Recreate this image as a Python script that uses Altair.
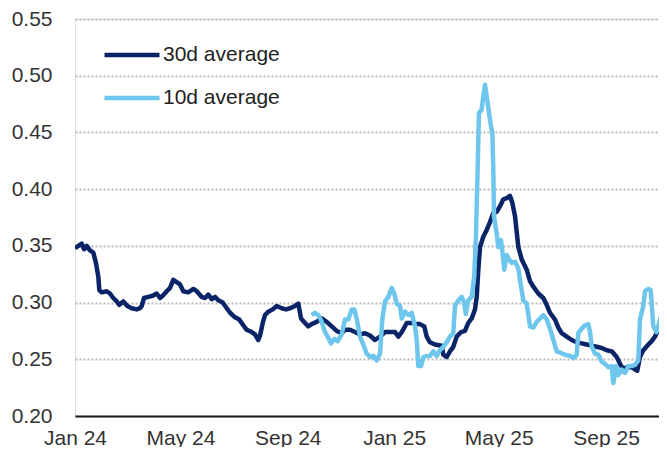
import altair as alt
import pandas as pd

FONT = "Liberation Sans"

start_date = "2024-01-01"
end_date = "2025-10-31T17:00:00"

series_names = ["30d average", "10d average"]
series_colors = ["#0a2467", "#6ec6ec"]

y_ticks = [0.20, 0.25, 0.30, 0.35, 0.40, 0.45, 0.50, 0.55]
x_tick_dates = ["2024-01-01", "2024-05-01", "2024-09-01",
                "2025-01-01", "2025-05-01", "2025-09-01"]

# day offsets from 2024-01-01 and values
days_30d = [0, 3.8, 7.7, 10.3, 13.4, 17.2, 21.0, 24.0, 26.7, 27.9,
            30.6, 36.4, 40.1, 43.9, 47.8, 50.8, 55.4, 60.0, 65.0, 70.8,
            74.5, 76.5, 79.1, 84.0, 89.1, 93.7, 97.5, 100.6, 105.2, 109.0,
            112.7, 116.6, 120.4, 124.2, 129.9, 135.7, 139.6, 145.3, 149.1, 152.9,
            156.8, 160.6, 164.3, 169.4, 174.0, 177.8, 183.5, 188.4, 193.0, 196.9,
            202.6, 206.4, 210.2, 212.2, 215.3, 217.9, 221.7, 226.7, 231.3, 237.0,
            242.0, 246.6, 252.3, 256.1, 259.2, 263.8, 267.5, 271.4, 277.2, 282.9,
            288.6, 294.4, 300.1, 305.9, 309.6, 315.4, 321.1, 326.8, 332.6, 338.3,
            344.0, 349.8, 355.5, 361.2, 367.0, 370.8, 374.7, 380.4, 386.1, 391.9,
            395.6, 400.6, 403.3, 407.1, 412.8, 420.5, 422.4, 426.2, 430.0, 433.8,
            437.7, 442.7, 447.2, 451.0, 454.9, 458.7, 460.7, 462.5, 464.5, 468.2,
            472.1, 475.9, 479.7, 483.6, 487.4, 491.2, 495.1, 498.9, 501.5, 504.6,
            508.4, 512.3, 518.0, 521.8, 525.6, 531.3, 537.0, 540.9, 544.7, 550.5,
            554.3, 558.1, 563.9, 569.6, 575.3, 581.1, 586.8, 592.6, 598.3, 604.0,
            609.8, 615.5, 621.2, 625.0, 628.8, 632.7, 638.4, 642.2, 644.8, 647.9,
            651.7, 657.5, 661.3, 665.1, 668.9, 672.8, 676.5, 678.5]
vals_30d = [0.348, 0.350, 0.352, 0.347, 0.350, 0.346, 0.344, 0.335, 0.323, 0.311,
            0.309, 0.310, 0.308, 0.304, 0.301, 0.298, 0.301, 0.297, 0.295, 0.294,
            0.295, 0.297, 0.304, 0.305, 0.306, 0.308, 0.304, 0.306, 0.310, 0.313,
            0.320, 0.318, 0.316, 0.310, 0.309, 0.312, 0.310, 0.305, 0.304, 0.307,
            0.303, 0.305, 0.302, 0.300, 0.295, 0.291, 0.287, 0.285, 0.280, 0.276,
            0.274, 0.272, 0.267, 0.271, 0.282, 0.289, 0.292, 0.294, 0.297, 0.295,
            0.294, 0.295, 0.297, 0.299, 0.286, 0.282, 0.279, 0.281, 0.283, 0.286,
            0.283, 0.279, 0.275, 0.273, 0.276, 0.276, 0.274, 0.272, 0.273, 0.271,
            0.267, 0.270, 0.274, 0.274, 0.274, 0.270, 0.274, 0.282, 0.282, 0.281,
            0.281, 0.279, 0.270, 0.265, 0.263, 0.262, 0.254, 0.252, 0.257, 0.261,
            0.270, 0.274, 0.275, 0.282, 0.286, 0.294, 0.305, 0.329, 0.349, 0.358,
            0.364, 0.371, 0.379, 0.380, 0.385, 0.391, 0.392, 0.394, 0.388, 0.376,
            0.349, 0.338, 0.329, 0.319, 0.314, 0.308, 0.304, 0.298, 0.291, 0.285,
            0.278, 0.273, 0.270, 0.267, 0.265, 0.264, 0.263, 0.262, 0.261, 0.260,
            0.258, 0.257, 0.252, 0.246, 0.241, 0.243, 0.243, 0.241, 0.240, 0.252,
            0.258, 0.263, 0.266, 0.270, 0.276, 0.280, 0.286, 0.286]

days_10d = [271.4, 275.2, 279.0, 282.9, 286.7, 290.5, 293.6, 297.4, 301.3, 305.9,
            309.6, 313.4, 317.3, 320.3, 323.0, 326.8, 330.6, 334.5, 338.3, 342.1,
            346.0, 349.8, 352.4, 355.5, 359.3, 363.2, 366.1, 368.9, 372.7, 374.7,
            378.4, 382.2, 386.1, 389.9, 391.9, 393.7, 396.8, 399.5, 403.3, 407.1,
            410.9, 414.8, 418.6, 422.4, 426.2, 430.0, 433.8, 435.8, 439.6, 443.5,
            446.4, 448.1, 451.0, 454.9, 457.8, 459.8, 461.7, 463.2, 466.3, 468.2,
            470.2, 472.1, 474.8, 477.1, 478.6, 479.7, 480.5, 483.6, 485.4, 488.5,
            490.0, 492.3, 495.1, 497.7, 500.8, 504.6, 508.4, 510.3, 514.1, 518.0,
            521.8, 525.6, 529.5, 533.3, 537.1, 541.0, 544.7, 548.6, 552.4, 556.2,
            562.0, 567.7, 571.5, 575.3, 577.2, 581.1, 584.9, 588.7, 590.6, 592.6,
            596.4, 600.2, 604.0, 607.8, 611.7, 615.5, 617.3, 620.4, 623.0, 626.9,
            630.7, 634.5, 638.4, 642.2, 646.0, 647.9, 651.7, 653.7, 657.5, 660.2,
            663.2, 667.0, 670.8, 674.6, 678.5]
vals_10d = [0.289, 0.291, 0.289, 0.283, 0.274, 0.269, 0.264, 0.268, 0.266, 0.272,
            0.285, 0.285, 0.294, 0.294, 0.286, 0.270, 0.263, 0.255, 0.252, 0.253,
            0.249, 0.255, 0.285, 0.301, 0.305, 0.313, 0.308, 0.299, 0.297, 0.286,
            0.292, 0.289, 0.291, 0.279, 0.267, 0.244, 0.244, 0.252, 0.253, 0.253,
            0.257, 0.253, 0.258, 0.261, 0.265, 0.270, 0.273, 0.297, 0.302, 0.305,
            0.300, 0.290, 0.302, 0.305, 0.323, 0.358, 0.417, 0.467, 0.470, 0.482,
            0.492, 0.482, 0.467, 0.455, 0.450, 0.417, 0.376, 0.361, 0.349, 0.355,
            0.346, 0.329, 0.342, 0.338, 0.335, 0.336, 0.330, 0.320, 0.302, 0.299,
            0.279, 0.278, 0.283, 0.286, 0.289, 0.285, 0.277, 0.267, 0.257, 0.256,
            0.254, 0.253, 0.251, 0.254, 0.273, 0.277, 0.280, 0.281, 0.274, 0.261,
            0.255, 0.254, 0.248, 0.246, 0.243, 0.244, 0.229, 0.244, 0.236, 0.241,
            0.238, 0.244, 0.244, 0.245, 0.249, 0.285, 0.297, 0.310, 0.312, 0.311,
            0.279, 0.274, 0.285, 0.294, 0.291]

t0 = pd.Timestamp(start_date)
df30 = pd.DataFrame({
    "date": t0 + pd.to_timedelta(days_30d, unit="D"),
    "value": vals_30d,
    "series": series_names[0],
})
df10 = pd.DataFrame({
    "date": t0 + pd.to_timedelta(days_10d, unit="D"),
    "value": vals_10d,
    "series": series_names[1],
})


def dt(s):
    ts = pd.Timestamp(s)
    return alt.DateTime(year=ts.year, month=ts.month, date=ts.day,
                        hours=ts.hour, minutes=ts.minute)


x_enc = alt.X(
    "date:T",
    scale=alt.Scale(domain=[dt(start_date), dt(end_date)]),
    axis=alt.Axis(
        values=[dt(d) for d in x_tick_dates],
        format="%b %y",
        title=None,
        grid=False,
        ticks=False,
        domain=True,
        domainColor="#1a1a1a",
        domainWidth=2,
        labelFontSize=21,
        labelColor="#333333",
        labelPadding=11,
        labelFlush=False,
        labelOverlap=False,
        labelBound=False,
    ),
)

y_enc = alt.Y(
    "value:Q",
    scale=alt.Scale(domain=[0.20, 0.55], nice=False, zero=False),
    axis=alt.Axis(
        values=y_ticks,
        format=".2f",
        title=None,
        domain=False,
        ticks=False,
        grid=True,
        gridColor="#b8b8b8",
        gridDash=[2, 2],
        gridWidth=2,
        labelFontSize=21,
        labelColor="#333333",
        labelPadding=23,
    ),
)

color_enc = alt.Color(
    "series:N",
    scale=alt.Scale(domain=series_names, range=series_colors),
    legend=alt.Legend(
        title=None,
        orient="none",
        legendX=27,
        legendY=24,
        symbolType="stroke",
        symbolSize=3025,
        symbolStrokeWidth=4.5,
        labelFontSize=21,
        labelColor="#222222",
        labelOffset=1,
        rowPadding=19,
        clipHeight=24,
        padding=0,
    ),
)

line30 = alt.Chart(df30).mark_line(strokeWidth=4.5, strokeJoin="round", clip=True).encode(
    x=x_enc, y=y_enc, color=color_enc
)
line10 = alt.Chart(df10).mark_line(strokeWidth=4.5, strokeJoin="round", clip=True).encode(
    x=x_enc, y=y_enc, color=color_enc
)

chart = (
    alt.layer(line30, line10)
    .properties(
        width=584,
        height=397,
        padding={"left": 67, "top": 11, "right": 0, "bottom": 31},
        autosize=alt.AutoSizeParams(type="none"),
    )
    .configure_view(stroke=None)
    .configure(font=FONT)
)

chart.save("out.html", embed_options={"renderer": "svg", "actions": False})
